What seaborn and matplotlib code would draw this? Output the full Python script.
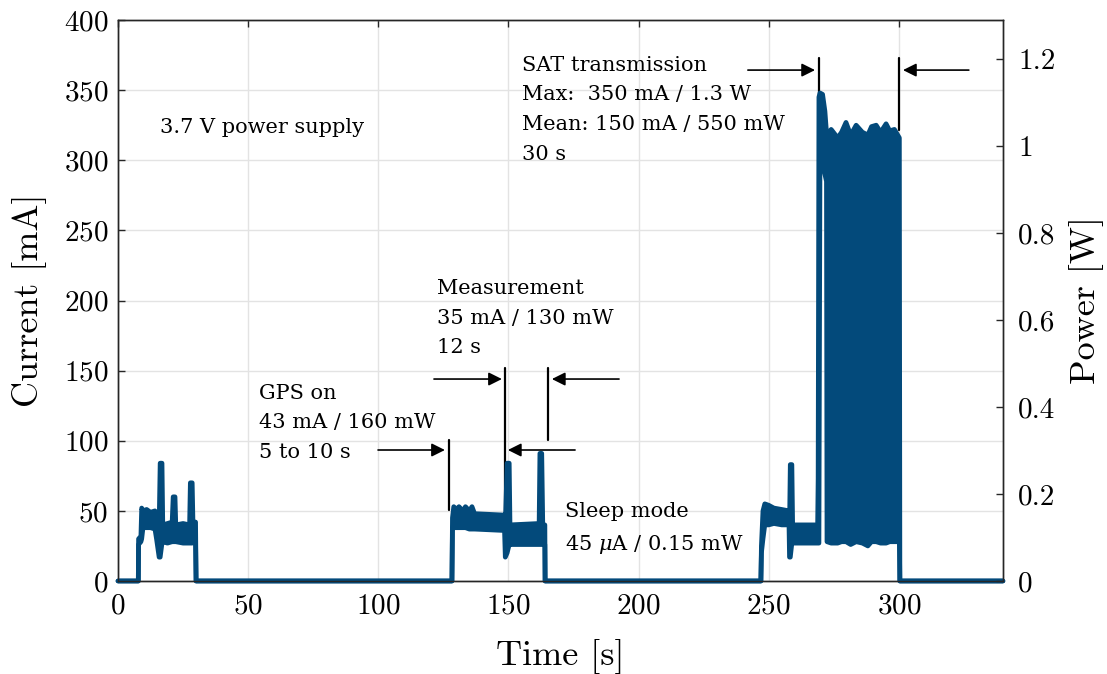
import seaborn as sns
import matplotlib.pyplot as plt
from matplotlib.ticker import FuncFormatter

time_s = [0, 7.8, 7.9, 8.8, 9.1, 9.6, 11.0, 12.5, 14.2, 14.8, 15.8, 16.2, 16.9, 17.2,
          19.0, 20.8, 21.2, 21.9, 22.2, 25.0, 27.5, 27.8, 28.5, 28.8, 29.8, 30.0,
          128.3, 128.5, 129.0, 130.0, 131.0, 132.5, 133.5, 135.0, 136.0, 137.0, 148.5,
          148.8, 149.5, 150.3, 150.6, 161.8, 162.1, 162.8, 163.2, 164.0, 164.1,
          247.0, 247.2, 247.8, 248.5, 250.0, 252.0, 255.0, 257.8, 258.0, 258.3, 258.9,
          259.2, 268.8, 269.0, 269.3, 269.7, 270.7, 271.6, 272.2, 272.4, 274.0, 276.5,
          278.0, 279.7, 281.5, 283.6, 286.0, 288.1, 289.5, 291.3, 293.0, 295.1, 296.5,
          298.3, 300.2, 300.4, 340.0]
upper_mA = [0, 0, 30, 32, 52, 50, 51, 49, 50, 41, 40, 84, 84, 40,
            41, 42, 60, 60, 40, 41, 40, 70, 70, 42, 42, 0,
            0, 45, 53, 51, 53, 50, 53, 50, 53, 48, 47,
            40, 84, 84, 40, 41, 91, 91, 40, 40, 0,
            0, 25, 50, 55, 54, 52, 51, 50, 40, 83, 83,
            40, 40, 73, 345, 348, 347, 335, 320, 318, 322, 316,
            320, 327, 318, 325, 320, 318, 324, 325, 320, 326, 321,
            322, 316, 0, 0]
lower_mA = [0, 0, 26, 28, 30, 38, 38, 38, 37, 30, 17, 17, 27, 28,
            27, 28, 28, 28, 28, 27, 27, 27, 27, 28, 28, 0,
            0, 38, 38, 38, 38, 38, 38, 37, 37, 37, 36,
            17, 20, 26, 26, 26, 26, 26, 26, 26, 0,
            0, 20, 30, 40, 40, 41, 40, 40, 17, 17, 27,
            27, 27, 27, 27, 300, 298, 290, 285, 28, 27, 27,
            28, 28, 26, 28, 27, 25, 28, 28, 27, 27, 28,
            28, 28, 0, 0]

x_ticks = [0, 50, 100, 150, 200, 250, 300]
y_ticks = [0, 50, 100, 150, 200, 250, 300, 350, 400]
power_ticks = [0, 0.2, 0.4, 0.6, 0.8, 1.0, 1.2]

# annotations: (text, time, current)
notes = [
    ("3.7 V power supply", 16.1, 323.7),
    ("SAT transmission\nMax:  350 mA / 1.3 W\nMean: 150 mA / 550 mW\n30 s", 155.2, 336),
    ("Measurement\n35 mA / 130 mW\n12 s", 122.5, 187.5),
    ("GPS on\n43 mA / 160 mW\n5 to 10 s", 54.2, 112.7),
    ("Sleep mode\n45 $\\mu$A / 0.15 mW", 171.7, 37.1),
]
# arrows: (tail time, head time, current level)
arrows = [(99.9, 125.6, 93.4), (175.6, 149.8, 93.4),
          (121.4, 147.5, 144.0), (192.5, 166.7, 144.0),
          (242.0, 267.8, 364.3), (326.9, 301.6, 364.3)]
# event markers: (time, from, to)
markers = [(127.2, 50.6, 100.5), (148.7, 49.2, 151.9), (165.2, 100.5, 151.9),
           (269.3, 321.6, 372.9), (300.0, 321.6, 372.9)]

color = "#034a7b"

sns.set_theme(style="white")
plt.rcParams["font.family"] = ["cmr10", "DejaVu Serif"]
plt.rcParams["axes.formatter.use_mathtext"] = True
plt.rcParams["mathtext.fontset"] = "dejavuserif"

fig, ax = plt.subplots(figsize=(11.07, 6.74), dpi=100)
fig.subplots_adjust(left=0.1066, right=0.906, top=0.9703, bottom=0.138)

ax.fill_between(time_s, lower_mA, upper_mA, color=color, lw=0)
sns.lineplot(x=time_s, y=upper_mA, ax=ax, color=color, lw=3.4, sort=False,
             estimator=None, clip_on=False, zorder=3)
sns.lineplot(x=time_s, y=lower_mA, ax=ax, color=color, lw=3.4, sort=False,
             estimator=None, clip_on=False, zorder=3)

ax.set_xlim(0, 340)
ax.set_ylim(0, 400)
ax.set_xticks(x_ticks)
ax.set_yticks(y_ticks)
ax.grid(True, color="#e3e3e3", lw=1)
ax.set_axisbelow(True)
ax.set_xlabel("Time [s]", fontsize=26, labelpad=14, color="black")
ax.set_ylabel("Current [mA]", fontsize=26, labelpad=12, color="black")
ax.tick_params(axis="both", direction="in", length=5, width=1, labelsize=21,
               color="#262626", labelcolor="black")
ax.tick_params(axis="x", top=True, pad=9)
ax.tick_params(axis="y", pad=7)

ax2 = ax.twinx()
ax2.set_ylim(0, 1.29)
ax2.set_yticks(power_ticks)
ax2.yaxis.set_major_formatter(FuncFormatter(lambda v, p: f"{v:g}"))
ax2.tick_params(axis="y", direction="in", length=5, width=1, labelsize=21, pad=11,
                color="#262626", labelcolor="black")
ax2.set_ylabel("Power [W]", fontsize=26, labelpad=10, color="black")
ax2.grid(False)

for a in (ax, ax2):
    for s in a.spines.values():
        s.set_color("#262626")
        s.set_linewidth(1)

for txt, t, i in notes:
    ax.text(t, i, txt, family="DejaVu Serif", fontsize=15, va="center", ha="left",
            linespacing=1.72, color="black")

for t0, t1, level in arrows:
    ax.annotate("", xy=(t1, level), xytext=(t0, level),
                arrowprops=dict(arrowstyle="-|>", color="black", lw=1.2,
                                mutation_scale=20, shrinkA=0, shrinkB=0))

for t, a0, a1 in markers:
    ax.plot([t, t], [a0, a1], color="black", lw=1.6)

fig.savefig("out.png", dpi=100)
